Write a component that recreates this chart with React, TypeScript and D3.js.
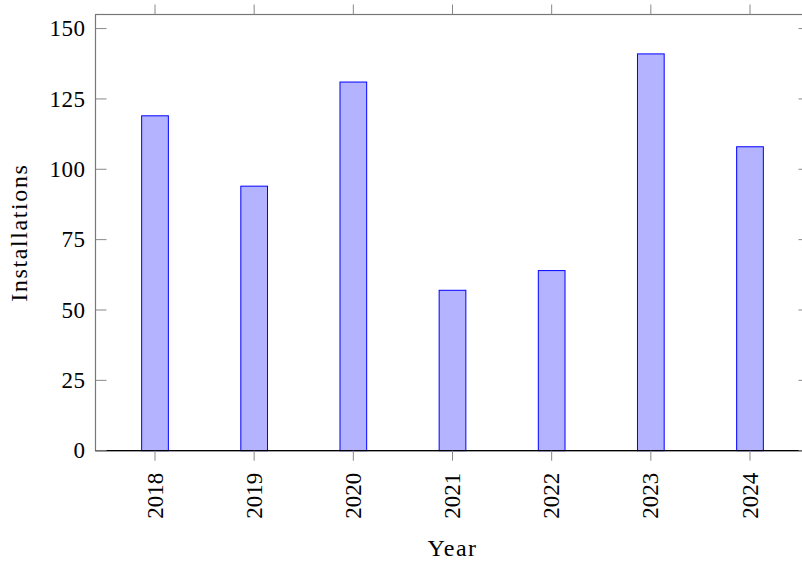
import React, { useEffect, useRef } from 'react';
import * as d3 from 'd3';

const years = [2018, 2019, 2020, 2021, 2022, 2023, 2024];
const installations = [119, 94, 131, 57, 64, 141, 108];
const yTicks = [0, 25, 50, 75, 100, 125, 150];

const App: React.FC = () => {
  const ref = useRef<SVGSVGElement>(null);

  useEffect(() => {
    if (!ref.current) return;
    const svg = d3.select(ref.current);
    svg.selectAll("*").remove();

    const left = 95.5, right = 809.5, top = 14.5, bottom = 450.7;
    const font = "'Liberation Serif', serif";

    const x = d3.scaleLinear().domain([2017.4, 2024.6]).range([left, right]);
    const y = d3.scaleLinear().domain([0, 155]).range([bottom, top]);
    const barW = 26.7;

    // Bars
    svg.append("g")
      .selectAll("rect")
      .data(years)
      .join("rect")
      .attr("x", (d) => x(d) - barW / 2)
      .attr("y", (d, i) => y(installations[i]))
      .attr("width", barW)
      .attr("height", (d, i) => y(0) - y(installations[i]))
      .attr("fill", "#b3b3ff")
      .attr("stroke", "#0000ff")
      .attr("stroke-width", 1);

    // Axis box
    svg.append("rect")
      .attr("x", left).attr("y", top)
      .attr("width", right - left).attr("height", bottom - top)
      .attr("fill", "none")
      .attr("stroke", "#777")
      .attr("stroke-width", 1.2);

    svg.append("line")
      .attr("x1", left).attr("x2", right)
      .attr("y1", bottom).attr("y2", bottom)
      .attr("stroke", "#000")
      .attr("stroke-width", 1.2);

    // Y ticks (inside, both sides)
    const yt = svg.append("g");
    yTicks.forEach((t) => {
      yt.append("line")
        .attr("x1", left).attr("x2", left + 11)
        .attr("y1", y(t)).attr("y2", y(t))
        .attr("stroke", "#888").attr("stroke-width", 1);
      yt.append("line")
        .attr("x1", right - 11).attr("x2", right)
        .attr("y1", y(t)).attr("y2", y(t))
        .attr("stroke", "#888").attr("stroke-width", 1);
      yt.append("text")
        .attr("x", left - 10)
        .attr("y", y(t))
        .attr("dy", "0.33em")
        .attr("text-anchor", "end")
        .style("font-family", font)
        .style("font-size", "23px")
        .style("letter-spacing", "0.5px")
        .text(t);
    });

    // X ticks (outside, top and bottom)
    const xt = svg.append("g");
    years.forEach((yr) => {
      xt.append("line")
        .attr("x1", x(yr)).attr("x2", x(yr))
        .attr("y1", top - 10).attr("y2", top)
        .attr("stroke", "#888").attr("stroke-width", 1);
      xt.append("line")
        .attr("x1", x(yr)).attr("x2", x(yr))
        .attr("y1", bottom).attr("y2", bottom + 10)
        .attr("stroke", "#888").attr("stroke-width", 1);
      xt.append("text")
        .attr("transform", `translate(${x(yr)},${bottom + 22}) rotate(-90)`)
        .attr("dy", "0.33em")
        .attr("text-anchor", "end")
        .style("font-family", font)
        .style("font-size", "23px")
        .text(yr);
    });

    // Axis labels
    svg.append("text")
      .attr("transform", `translate(27,${(top + bottom) / 2}) rotate(-90)`)
      .attr("text-anchor", "middle")
      .style("font-family", font)
      .style("font-size", "24px")
      .style("letter-spacing", "1.6px")
      .text("Installations");

    svg.append("text")
      .attr("x", (left + right) / 2)
      .attr("y", 556)
      .attr("text-anchor", "middle")
      .style("font-family", font)
      .style("font-size", "24px")
      .style("letter-spacing", "1.5px")
      .text("Year");
  }, []);

  return (
    <svg ref={ref} width={802} height={563}
      style={{ position: 'absolute', left: 0, top: 0, background: '#fff' }}></svg>
  );
};

export default App;
